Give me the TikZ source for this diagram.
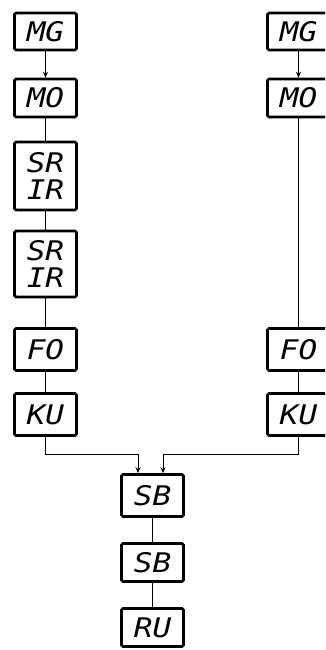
\documentclass[tikz,border=0pt]{standalone}
\usepackage{fontspec}
\usetikzlibrary{arrows.meta}
\newfontfamily\lbl{DejaVu Sans Mono Oblique}[FakeStretch=1.15]
\begin{document}
\begin{tikzpicture}[x=1pt,y=-1pt,
  blk/.style={draw,line width=2.6pt,rounded corners=1.5pt,minimum width=62pt,
    inner sep=0pt,font=\lbl\fontsize{27}{27}\selectfont,align=center},
  con/.style={line width=1pt},
  arr/.style={con,-{Stealth[length=6pt,width=5pt]}}]
\clip (0,0) rectangle (325,650);
% left column
\node[blk,minimum height=37pt] (mg1) at (45.5,31.5) {MG};
\node[blk,minimum height=38pt] (mo1) at (45.5,98) {MO};
\node[blk,minimum height=68pt] (sr1) at (45.5,176) {SR\\IR};
\node[blk,minimum height=66pt] (sr2) at (45.5,264) {SR\\IR};
\node[blk,minimum height=42pt] (fo1) at (45.5,349.5) {FO};
\node[blk,minimum height=42pt] (ku1) at (45.5,414.5) {KU};
% right column
\node[blk,minimum height=37pt] (mg2) at (298.5,31.5) {MG};
\node[blk,minimum height=38pt] (mo2) at (298.5,98) {MO};
\node[blk,minimum height=42pt] (fo2) at (298.5,349.5) {FO};
\node[blk,minimum height=42pt] (ku2) at (298.5,414.5) {KU};
% bottom column
\node[blk,minimum height=42pt] (sb1) at (152.5,495.5) {SB};
\node[blk,minimum height=38pt] (sb2) at (152.5,562.5) {SB};
\node[blk,minimum height=38pt] (ru) at (152.5,627.5) {RU};
% junction points
\coordinate (jl) at (138,454);
\coordinate (jr) at (163,454);
% connectors
\draw[arr] (mg1) -- (mo1);
\draw[con] (mo1) -- (sr1);
\draw[con] (sr1) -- (sr2);
\draw[con] (sr2) -- (fo1);
\draw[con] (fo1) -- (ku1);
\draw[arr] (mg2) -- (mo2);
\draw[con] (mo2) -- (fo2);
\draw[con] (fo2) -- (ku2);
\draw[arr] (ku1.south) |- (jl) -- (jl |- sb1.north);
\draw[arr] (ku2.south) |- (jr) -- (jr |- sb1.north);
\draw[con] (sb1) -- (sb2);
\draw[con] (sb2) -- (ru);
\end{tikzpicture}
\end{document}
